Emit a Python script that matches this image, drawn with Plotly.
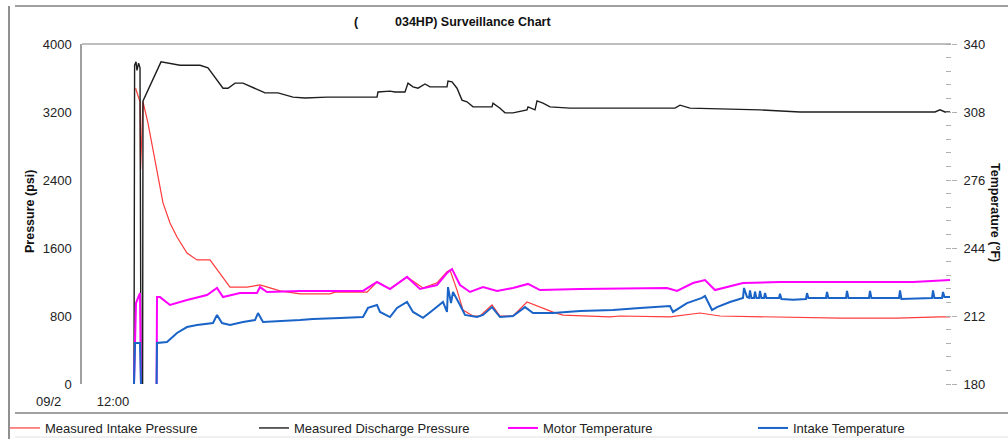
import plotly.graph_objects as go

# Time axis: hours counted from 09/2 00:00 (None marks a gap in the record)
intake_p_t = [13.13, 13.35, 13.38, 13.5, 13.75, 14.0, 14.25, 14.5, 14.85, 15.2, 15.7, 16.2, 16.85,
              17.35, 17.85, 18.7, 19.35, 19.85, 20.35, 21.35, 22.85, 23.1, 24.7, 25.2, 25.85, 26.7,
              27.5, 28.2, 28.7, 28.85, 29.2, 29.5, 30.0, 30.35, 30.95, 31.35, 32.0, 32.7, 33.35,
              34.0, 34.5, 35.35, 36.85, 37.35, 39.85, 41.35, 42.35, 48.35, 51.2, 53.35, 53.85]
intake_p = [3480, 3320, 2520, 3320, 3070, 2755, 2400, 2130, 1895, 1730, 1540, 1460, 1460,
            1305, 1140, 1140, 1165, 1130, 1095, 1060, 1060, 1080, 1080, 1200, 1120, 1260,
            1130, 1190, 1320, 1340, 1105, 870, 800, 800, 930, 800, 800, 965, 905,
            845, 810, 800, 790, 800, 790, 835, 800, 775, 775, 790, 790]

discharge_p_t = [13.05, 13.08, 13.15, 13.2, 13.28, 13.35, 13.4, None, 13.48, 13.5, 14.4, 15.35, 16.35,
                 16.75, 17.5, 17.75, 18.1, 18.5, 19.6, 20.25, 21.0, 21.6, 22.7, 25.2, 25.25,
                 25.85, 26.1, 26.6, 26.75, 27.0, 27.25, 27.6, 27.85, 28.7, 28.75, 28.95, 29.2,
                 29.45, 29.7, 30.0, 30.95, 31.0, 31.35, 31.6, 32.0, 32.7, 32.75, 33.1, 33.2,
                 33.5, 33.85, 34.85, 36.35, 40.1, 40.35, 40.85, 44.35, 46.35, 53.1, 53.35,
                 53.6, 53.85]
discharge_p = [0, 3750, 3790, 3690, 3775, 3720, 0, None, 0, 3330, 3790, 3750, 3750,
               3720, 3480, 3480, 3540, 3540, 3425, 3425, 3375, 3365, 3375, 3375, 3435,
               3445, 3435, 3435, 3540, 3495, 3480, 3530, 3495, 3495, 3565, 3555, 3480,
               3340, 3320, 3260, 3260, 3305, 3245, 3190, 3190, 3225, 3260, 3225, 3330,
               3305, 3260, 3245, 3245, 3245, 3280, 3245, 3225, 3200, 3200, 3225,
               3200, 3200]

motor_t_t = [13.05, 13.1, 13.15, 13.35, 13.4, None, 14.18, 14.2, 14.35, 14.85, 15.7, 16.7, 17.2, 17.5,
             18.35, 19.2, 19.35, 19.7, 21.35, 24.5, 25.2, 25.85, 26.7, 27.35, 28.2, 28.7, 28.95,
             29.35, 29.85, 30.5, 31.2, 32.0, 32.75, 33.35, 35.35, 39.7, 40.2, 41.0, 41.6, 42.1,
             43.5, 45.35, 52.0, 53.85]
motor_t = [180, 194.6, 218.1, 222.8, 180, None, 180, 220.9, 220.9, 217.2, 219.5, 221.9, 225.2, 220.9,
           222.8, 222.8, 225.6, 223.3, 223.8, 223.8, 228.0, 224.7, 230.4, 224.7, 226.6, 232.2, 234.1,
           226.6, 223.3, 225.6, 223.8, 225.2, 227.1, 224.2, 224.7, 225.2, 223.8, 227.5, 228.9, 224.2,
           227.5, 228.0, 228.0, 228.9]

intake_t_t = [13.05, 13.1, 13.35, 13.4, None, 14.18, 14.2, 14.7, 15.2, 15.7, 16.2, 17.0, 17.2, 17.45,
              17.85, 18.5, 19.1, 19.25, 19.5, 21.35, 22.0, 23.35, 24.5, 24.75, 25.2, 25.35, 25.85,
              26.2, 26.7, 27.0, 27.5, 28.0, 28.5, 28.7, 28.75, 28.9, 29.0, 29.35, 29.6, 30.2,
              30.5, 30.95, 31.35, 32.0, 32.6, 33.0, 34.0, 35.35, 37.0, 38.35, 39.85, 40.0, 40.7,
              41.45, 41.6, 41.95, 42.2, 42.85, 43.5, 43.55, 43.7, 43.8, 43.85, 43.92, 44.05,
              44.1, 44.17, 44.3, 44.35, 44.42, 44.55, 44.6, 44.67, 45.3, 45.35, 45.42, 46.0,
              46.65, 46.7, 46.77, 47.65, 47.7, 47.77, 48.65, 48.7, 48.77, 49.8, 49.85, 49.92,
              51.3, 51.35, 51.42, 52.95, 53.0, 53.07, 53.45, 53.5, 53.57, 53.85]
intake_t = [180, 199.3, 199.3, 180, None, 180, 199.3, 199.8, 204.0, 206.8, 207.8, 208.7, 212.5, 208.7,
            207.8, 209.2, 210.1, 213.4, 209.2, 210.1, 210.6, 211.1, 211.5, 215.8, 217.2, 213.9, 211.5,
            215.8, 218.6, 213.9, 211.1, 214.8, 218.6, 213.9, 225.6, 218.1, 223.3, 217.2, 212.5, 211.5,
            212.5, 216.2, 211.5, 212.0, 216.2, 213.4, 213.4, 214.4, 214.8, 215.8, 216.7, 213.9, 218.1,
            220.5, 221.4, 214.8, 216.2, 218.6, 220.5, 225.2, 220.9, 220.5, 224.0, 220.5, 220.5,
            223.5, 220.5, 220.5, 223.8, 220.5, 220.5, 222.8, 220.5, 220.5, 222.5, 220.0, 219.6,
            220.0, 222.8, 220.5, 220.5, 223.3, 220.5, 220.5, 223.8, 220.5, 220.5, 223.8, 220.5,
            220.5, 224.0, 220.0, 220.5, 224.0, 220.5, 220.5, 223.3, 221.0, 221.0]

pressure_ticks = [0, 800, 1600, 2400, 3200, 4000]
temp_ticks = [180, 212, 244, 276, 308, 340]
time_ticks = [12]
time_labels = ["12:00"]

FONT = "Arial, Liberation Sans, sans-serif"

L, R, T, B = 82, 57, 44, 55
W, H = 1008, 439
PW, PH = W - L - R, H - T - B


def px(x):
    return (x - L) / PW


def py(y):
    return (H - B - y) / PH


fig = go.Figure()
fig.add_trace(go.Scatter(x=intake_p_t, y=intake_p, mode="lines", name="Measured Intake Pressure",
                         legend="legend", connectgaps=False,
                         line=dict(color="#ff3b3b", width=1.2)))
fig.add_trace(go.Scatter(x=discharge_p_t, y=discharge_p, mode="lines", name="Measured Discharge Pressure",
                         legend="legend2", connectgaps=False,
                         line=dict(color="#1e1e1e", width=1.4)))
fig.add_trace(go.Scatter(x=motor_t_t, y=motor_t, mode="lines", name="Motor Temperature", yaxis="y2",
                         legend="legend3", connectgaps=False,
                         line=dict(color="#ff00ff", width=2)))
fig.add_trace(go.Scatter(x=intake_t_t, y=intake_t, mode="lines", name="Intake Temperature", yaxis="y2",
                         legend="legend4", connectgaps=False,
                         line=dict(color="#1a64c8", width=2)))


def legend_at(left_px):
    return dict(orientation="h", x=px(left_px), xanchor="left", y=py(428), yanchor="middle",
                itemwidth=30, font=dict(size=13, color="#222"), bgcolor="rgba(0,0,0,0)")


fig.update_layout(
    width=W, height=H,
    margin=dict(l=L, r=R, t=T, b=B, autoexpand=False),
    paper_bgcolor="white", plot_bgcolor="white",
    font=dict(family=FONT, size=13, color="#222"),
    showlegend=True,
    legend=legend_at(5), legend2=legend_at(254), legend3=legend_at(503), legend4=legend_at(753),
    xaxis=dict(range=[10.45, 53.9], tickvals=time_ticks, ticktext=time_labels,
               showgrid=False, zeroline=False, showline=False, ticks="",
               ticklabelstandoff=8, tickfont=dict(size=13, color="#222")),
    yaxis=dict(range=[0, 4000], tickvals=pressure_ticks, showgrid=False, zeroline=False,
               showline=True, linecolor="#a0a0a0", linewidth=1.5, ticks="",
               ticklabelstandoff=6, tickfont=dict(size=13, color="#222")),
    yaxis2=dict(range=[180, 340], tickvals=temp_ticks, overlaying="y", side="right",
                showgrid=False, zeroline=False, showline=False,
                ticks="outside", ticklen=5, tickcolor="#b0b0b0", tickwidth=1,
                minor=dict(dtick=6.4, tick0=180, ticks="inside", ticklen=5, tickcolor="#b0b0b0", tickwidth=1),
                ticklabelstandoff=4, tickfont=dict(size=13, color="#222")),
)

# Top border of the plotting area at full scale
fig.add_shape(type="line", xref="paper", yref="paper", x0=0, x1=1, y0=1, y1=1,
              line=dict(color="#a8a8a8", width=1.5))
# Outer frame and legend separator
frame = dict(color="#a0a0a0", width=2)
fig.add_shape(type="line", xref="paper", yref="paper", x0=px(15), x1=px(1008), y0=py(6), y1=py(6), line=frame)
fig.add_shape(type="line", xref="paper", yref="paper", x0=px(9), x1=px(9), y0=py(6), y1=py(439),
              line=dict(color="#909090", width=2))
fig.add_shape(type="line", xref="paper", yref="paper", x0=px(15), x1=px(1008), y0=py(413), y1=py(413), line=frame)
fig.add_shape(type="line", xref="paper", yref="paper", x0=px(15), x1=px(1008), y0=py(437), y1=py(437),
              line=dict(color="#e0e0e0", width=1))

# Title
fig.add_annotation(text="<b>(</b>", xref="paper", yref="paper", x=px(356), y=py(22),
                   xanchor="center", yanchor="middle", showarrow=False, font=dict(size=12.5, color="#111"))
fig.add_annotation(text="<b>034HP) Surveillance Chart</b>", xref="paper", yref="paper", x=px(393), y=py(22),
                   xanchor="left", yanchor="middle", showarrow=False, font=dict(size=12.5, color="#111"))
# Axis titles
fig.add_annotation(text="<b>Pressure (psi)</b>", xref="paper", yref="paper", x=px(30), y=py(212),
                   xanchor="center", yanchor="middle", textangle=-90, showarrow=False,
                   font=dict(size=12.5, color="#111"))
fig.add_annotation(text="<b>Temperature (°F)</b>", xref="paper", yref="paper", x=px(995), y=py(212),
                   xanchor="center", yanchor="middle", textangle=90, showarrow=False,
                   font=dict(size=12.5, color="#111"))
# Date label under the pressure axis
fig.add_annotation(text="09/2", xref="paper", yref="paper", x=px(48), y=py(401),
                   xanchor="center", yanchor="middle", showarrow=False, font=dict(size=13, color="#222"))

fig.write_html("out.html")
